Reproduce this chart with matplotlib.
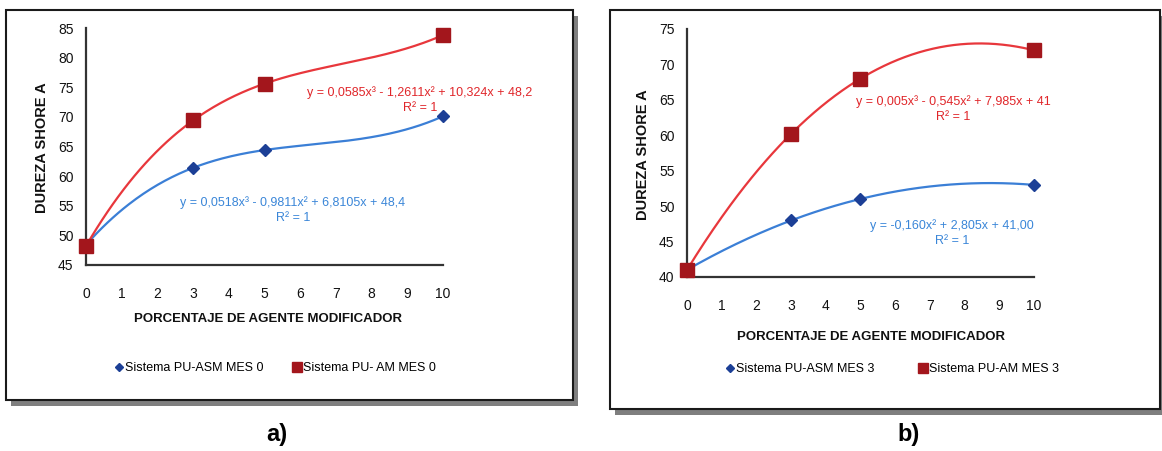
import numpy as np
import matplotlib
matplotlib.use("Agg")
import matplotlib.pyplot as plt
from matplotlib.patches import Rectangle

plt.rcParams['font.family'] = ['Liberation Sans', 'DejaVu Sans']

# datos
x_pct = [0, 3, 5, 10]
asm_mes0 = [48.4, 61.4, 64.4, 70.1]
am_mes0 = [48.2, 69.4, 75.6, 83.8]
asm_mes3 = [41.0, 48.0, 51.0, 53.0]
am_mes3 = [41.0, 60.2, 68.0, 72.0]

eq_asm0 = "y = 0,0518x³ - 0,9811x² + 6,8105x + 48,4\nR² = 1"
eq_am0 = "y = 0,0585x³ - 1,2611x² + 10,324x + 48,2\nR² = 1"
eq_asm3 = "y = -0,160x² + 2,805x + 41,00\nR² = 1"
eq_am3 = "y = 0,005x³ - 0,545x² + 7,985x + 41\nR² = 1"

W, H = 1162, 451
BLUE_M, BLUE_L, BLUE_T = '#1c3f96', '#3b7fd6', '#3a86d8'
RED_M, RED_L, RED_T = '#a3161c', '#e8373c', '#e0262a'

fig = plt.figure(figsize=(W / 100, H / 100), dpi=100)


def fx(x):
    return x / W


def fy(y):
    return 1 - y / H


def panel(box, axbox, xs, s1, s2, deg1, deg2, ylim, eq1, eq1pos, eq2, eq2pos,
          lab1, lab2, ylab_pos, xlab_pos, leg_pos, colsp, letter, letter_pos):
    # marco con sombra
    x0, y0, x1, y1 = box
    fig.patches.append(Rectangle((fx(x0 + 5), fy(y1 + 6)), fx(x1 - x0), (y1 - y0) / H,
                                 transform=fig.transFigure, facecolor='#7f7f7f',
                                 edgecolor='none', zorder=0))
    fig.patches.append(Rectangle((fx(x0), fy(y1)), fx(x1 - x0), (y1 - y0) / H,
                                 transform=fig.transFigure, facecolor='white',
                                 edgecolor='#1a1a1a', lw=1.5, zorder=1))
    l, b, r, t = axbox
    ax = fig.add_axes([fx(l), fy(b), fx(r - l), (b - t) / H])
    ax.set_zorder(3)
    ax.patch.set_alpha(0)

    xx = np.linspace(0, 10, 200)
    ax.plot(xx, np.polyval(np.polyfit(xs, s1, deg1), xx), color=BLUE_L, lw=1.6, zorder=2)
    ax.plot(xx, np.polyval(np.polyfit(xs, s2, deg2), xx), color=RED_L, lw=1.6, zorder=2)
    ax.plot(xs, s1, ls='none', marker='D', ms=6.5, color=BLUE_M, label=lab1,
            clip_on=False, zorder=3)
    ax.plot(xs, s2, ls='none', marker='s', ms=10.5, color=RED_M, label=lab2,
            clip_on=False, zorder=4)

    ax.set_xlim(0, 10)
    ax.set_ylim(*ylim)
    ax.set_xticks(range(0, 11))
    ax.set_yticks(range(ylim[0], ylim[1] + 1, 5))
    for side in ['top', 'right']:
        ax.spines[side].set_visible(False)
    for side in ['left', 'bottom']:
        ax.spines[side].set_color('#333333')
        ax.spines[side].set_linewidth(1.6)
    ax.tick_params(axis='x', length=0, pad=16, labelsize=10, labelcolor='#111111')
    ax.tick_params(axis='y', length=0, pad=9, labelsize=10, labelcolor='#111111')

    fig.text(fx(eq1pos[0]), fy(eq1pos[1]), eq1, color=BLUE_T, fontsize=9,
             ha='center', va='center', linespacing=1.25)
    fig.text(fx(eq2pos[0]), fy(eq2pos[1]), eq2, color=RED_T, fontsize=9,
             ha='center', va='center', linespacing=1.25)

    fig.text(fx(ylab_pos[0]), fy(ylab_pos[1]), 'DUREZA SHORE A', rotation=90,
             fontsize=10.5, fontweight='bold', ha='center', va='center', color='#111111')
    fig.text(fx(xlab_pos[0]), fy(xlab_pos[1]), 'PORCENTAJE DE AGENTE MODIFICADOR',
             fontsize=9.5, fontweight='bold', ha='center', va='center', color='#111111')

    ax.legend(loc='center', bbox_to_anchor=(fx(leg_pos[0]), fy(leg_pos[1])),
              bbox_transform=fig.transFigure, ncol=2, frameon=False, fontsize=9,
              handletextpad=0.05, columnspacing=colsp, handlelength=0.8,
              markerscale=0.65)

    fig.text(fx(letter_pos[0]), fy(letter_pos[1]), letter, fontsize=17,
             fontweight='bold', ha='center', va='center')
    return ax


panel((6, 10, 573, 400), (86, 265, 443, 28), x_pct, asm_mes0, am_mes0, 3, 3, (45, 85),
      eq_asm0, (293, 210), eq_am0, (420, 100),
      'Sistema PU-ASM MES 0', 'Sistema PU- AM MES 0',
      (42, 148), (268, 319), (275, 368), 2.3, 'a)', (277, 435))

panel((610, 10, 1160, 409), (687, 277, 1034, 29), x_pct, asm_mes3, am_mes3, 2, 3, (40, 75),
      eq_asm3, (952, 233), eq_am3, (953, 109),
      'Sistema PU-ASM MES 3', 'Sistema PU-AM MES 3',
      (643, 155), (871, 337), (892, 369), 3.5, 'b)', (909, 434))

fig.savefig('out.png', dpi=100)
